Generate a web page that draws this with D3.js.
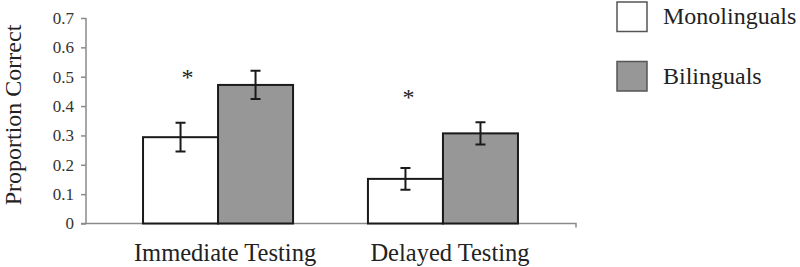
<!DOCTYPE html>
<html>
<head>
<meta charset="utf-8">
<script src="https://cdnjs.cloudflare.com/ajax/libs/d3/7.8.5/d3.min.js"></script>
<style>
  body { margin: 0; background: #fff; }
  svg text { font-family: "Liberation Serif", "Times New Roman", serif; fill: #222; }
</style>
</head>
<body>
<div id="chart"></div>
<script>
// data
var categories = ["Immediate Testing", "Delayed Testing"];
var groups = ["Monolinguals", "Bilinguals"];
var monoValues = [0.294, 0.152];
var monoErrors = [0.049, 0.037];
var biValues = [0.472, 0.307];
var biErrors = [0.048, 0.038];
var starValues = [0.506, 0.438];   // height of the "*" marks
var yTicks = [0, 0.1, 0.2, 0.3, 0.4, 0.5, 0.6, 0.7];

var width = 800, height = 267;
var plotLeft = 86, plotRight = 576, plotTop = 18, plotBottom = 223.5;

var svg = d3.select("#chart").append("svg")
    .attr("width", width)
    .attr("height", height);

var y = d3.scaleLinear().domain([0, 0.7]).range([plotBottom, plotTop]);

var x0 = d3.scaleBand()
    .domain(categories)
    .range([plotLeft - 1, plotRight])
    .paddingInner(0.333)
    .paddingOuter(0.258);

var x1 = d3.scaleBand()
    .domain(groups)
    .range([0, x0.bandwidth()]);

var color = d3.scaleOrdinal().domain(groups).range(["#ffffff", "#979797"]);

var rows = [];
categories.forEach(function(c, i) {
  rows.push({cat: c, grp: groups[0], v: monoValues[i], e: monoErrors[i]});
  rows.push({cat: c, grp: groups[1], v: biValues[i], e: biErrors[i]});
});

// y axis
var yAxis = svg.append("g")
    .attr("transform", "translate(" + plotLeft + ",0)")
    .call(d3.axisLeft(y)
      .tickValues(yTicks)
      .tickSize(5)
      .tickPadding(7)
      .tickFormat(function(d) { return d === 0 ? "0" : d.toFixed(1); }))
    .attr("font-size", 17)
    .attr("font-family", "Liberation Serif, serif");
yAxis.select(".domain").attr("stroke", "#8a8a8a").attr("stroke-width", 1.5)
    .attr("d", "M0," + plotTop + "V" + plotBottom);
yAxis.selectAll(".tick line").attr("stroke", "#8a8a8a").attr("stroke-width", 1.5);
yAxis.selectAll(".tick text")
    .style("font-size", "17px")
    .style("fill", "#333");

// x axis line
svg.append("path")
    .attr("d", "M" + (plotLeft - 5) + "," + y(0) + "H" + plotRight + "V" + (y(0) + 4))
    .attr("fill", "none")
    .attr("stroke", "#8a8a8a")
    .attr("stroke-width", 1.5);

// bars
var bars = svg.append("g").selectAll("g")
    .data(rows)
    .enter().append("g");

bars.append("rect")
    .attr("x", function(d) { return x0(d.cat) + x1(d.grp); })
    .attr("y", function(d) { return y(d.v); })
    .attr("width", x1.bandwidth())
    .attr("height", function(d) { return y(0) - y(d.v); })
    .attr("fill", function(d) { return color(d.grp); })
    .attr("stroke", "#1a1a1a")
    .attr("stroke-width", 2);

// error bars
var cx = function(d) { return x0(d.cat) + x1(d.grp) + x1.bandwidth() / 2; };
bars.append("path")
    .attr("d", function(d) {
      var c = cx(d), hi = y(d.v + d.e), lo = y(d.v - d.e);
      return "M" + c + "," + hi + "V" + lo +
             "M" + (c - 5) + "," + hi + "H" + (c + 5) +
             "M" + (c - 5) + "," + lo + "H" + (c + 5);
    })
    .attr("fill", "none")
    .attr("stroke", "#1a1a1a")
    .attr("stroke-width", 2);

// significance stars (sit a little right of the monolingual bar centre)
var starShift = [7, 3];
svg.append("g").selectAll("text")
    .data(categories)
    .enter().append("text")
    .attr("x", function(d, i) { return x0(d) + x1.bandwidth() / 2 + starShift[i]; })
    .attr("y", function(d, i) { return y(starValues[i]) + 10; })
    .attr("text-anchor", "middle")
    .style("font-size", "24px")
    .text("*");

// category labels
svg.append("g").selectAll("text")
    .data(categories)
    .enter().append("text")
    .attr("x", function(d) { return x0(d) + x0.bandwidth() / 2 + 7; })
    .attr("y", 261)
    .attr("text-anchor", "middle")
    .style("font-size", "24.5px")
    .text(function(d) { return d; });

// y title
svg.append("text")
    .attr("transform", "translate(21,115) rotate(-90)")
    .attr("text-anchor", "middle")
    .style("font-size", "24px")
    .text("Proportion Correct");

// legend
var legend = svg.append("g").selectAll("g")
    .data(groups)
    .enter().append("g")
    .attr("transform", function(d, i) { return "translate(617," + (2 + i * 59.5) + ")"; });

legend.append("rect")
    .attr("width", 30)
    .attr("height", 29.5)
    .attr("fill", function(d) { return color(d); })
    .attr("stroke", "#555")
    .attr("stroke-width", 1.5);

legend.append("text")
    .attr("x", 46)
    .attr("y", 22)
    .style("font-size", "24px")
    .text(function(d) { return d; });
</script>
</body>
</html>
